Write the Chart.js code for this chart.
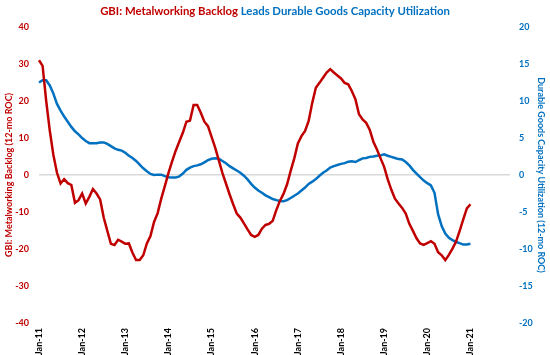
<!DOCTYPE html>
<html>
<head>
<meta charset="utf-8">
<script src="https://cdn.jsdelivr.net/npm/chart.js@4.4.1/dist/chart.umd.min.js"></script>
<style>
  html, body { margin: 0; padding: 0; background: #ffffff; }
  #wrap { width: 550px; height: 355px; position: relative; }
</style>
</head>
<body>
<div id="wrap"><canvas id="c" width="550" height="355"></canvas></div>
<script>
// ---- data ----
const monthNames = ['Jan','Feb','Mar','Apr','May','Jun','Jul','Aug','Sep','Oct','Nov','Dec'];
const years = ['11','12','13','14','15','16','17','18','19','20','21'];
const tickLabels = ['Jan-11','Jan-12','Jan-13','Jan-14','Jan-15','Jan-16','Jan-17','Jan-18','Jan-19','Jan-20','Jan-21'];

const gbiBacklog = [
  31.0, 29.5, 20.0, 12.0, 5.4, 0.6, -2.3, -1.1, -2.2, -2.7, -7.5, -6.8,
  -5.0, -7.7, -5.9, -3.8, -5.0, -6.6, -11.5, -15.1, -18.6, -18.9, -17.5, -18.0,
  -18.6, -18.5, -21.0, -23.0, -23.0, -21.7, -18.5, -16.5, -12.7, -10.3, -6.4, -3.0,
  0.5, 3.6, 6.5, 9.0, 11.4, 14.4, 14.7, 18.9, 18.9, 16.8, 14.4, 13.2,
  10.3, 7.4, 4.0, 0.6, -2.3, -5.2, -7.9, -10.4, -11.5, -13.1, -14.7, -16.2,
  -16.7, -16.2, -14.5, -13.5, -13.2, -12.4, -9.5, -7.0, -5.1, -2.5, 1.1, 4.5,
  8.5, 10.5, 11.9, 14.6, 19.5, 23.6, 24.9, 26.3, 27.7, 28.6, 27.7, 26.9,
  26.1, 24.9, 24.5, 22.7, 20.5, 16.4, 15.0, 14.1, 12.2, 9.0, 6.9, 4.5,
  2.2, -1.2, -4.0, -6.4, -7.7, -8.9, -10.4, -13.2, -15.1, -17.1, -18.5, -18.9,
  -18.4, -17.9, -18.6, -20.9, -21.7, -23.0, -21.6, -19.9, -18.0, -15.1, -12.0, -9.0,
  -7.9
];

const durableCapUtil = [
  12.5, 12.8, 12.8, 12.1, 11.0, 9.6, 8.7, 7.9, 7.2, 6.5, 5.9, 5.5,
  5.0, 4.6, 4.3, 4.3, 4.3, 4.4, 4.4, 4.2, 3.9, 3.6, 3.4, 3.3,
  3.0, 2.6, 2.3, 1.9, 1.4, 0.9, 0.5, 0.15, 0.0, 0.05, 0.05, -0.15,
  -0.3, -0.35, -0.35, -0.2, 0.2, 0.7, 1.0, 1.2, 1.3, 1.45, 1.7, 2.0,
  2.2, 2.25, 2.2, 1.9, 1.6, 1.2, 0.9, 0.6, 0.3, -0.1, -0.6, -1.2,
  -1.7, -2.1, -2.4, -2.75, -3.0, -3.25, -3.4, -3.5, -3.55, -3.4, -3.1, -2.8,
  -2.5, -2.1, -1.7, -1.2, -0.9, -0.55, -0.1, 0.3, 0.6, 1.0, 1.2, 1.35,
  1.5, 1.6, 1.8, 1.85, 1.75, 2.0, 2.25, 2.3, 2.45, 2.5, 2.6, 2.65,
  2.8, 2.6, 2.45, 2.3, 2.15, 2.1, 1.75, 1.3, 0.7, 0.2, -0.3, -0.75,
  -1.1, -1.4, -2.4, -5.3, -6.9, -7.9, -8.5, -8.8, -9.05, -9.2, -9.4, -9.4,
  -9.3
];

const titleRed = 'GBI: Metalworking Backlog ';
const titleBlue = 'Leads Durable Goods Capacity Utilization';
const leftTitle = 'GBI: Metalworking Backlog (12-mo ROC)';
const rightTitle = 'Durable Goods Capacity Utilization (12-mo ROC)';

// categories: every month Jan-11 .. Dec-21
const categories = [];
years.forEach(y => monthNames.forEach(m => categories.push(m + '-' + y)));

const RED = '#C00000';
const BLUE = '#0070C0';
const FONT = 'Lato, "Open Sans", sans-serif';

const titlePlugin = {
  id: 'twoColorTitle',
  afterDraw(chart) {
    const ctx = chart.ctx;
    ctx.save();
    let size = 14;
    ctx.font = 'bold ' + size + 'px ' + FONT;
    const w0 = ctx.measureText(titleRed + titleBlue).width;
    size = size * 350 / w0;
    ctx.font = 'bold ' + size + 'px ' + FONT;
    const wR = ctx.measureText(titleRed).width;
    const wAll = ctx.measureText(titleRed + titleBlue).width;
    const x0 = 275 - wAll / 2;
    ctx.textBaseline = 'middle';
    ctx.textAlign = 'left';
    ctx.fillStyle = RED;
    ctx.fillText(titleRed, x0, 11);
    ctx.fillStyle = BLUE;
    ctx.fillText(titleBlue, x0 + wR, 11);
    ctx.restore();
  }
};

new Chart(document.getElementById('c'), {
  type: 'line',
  data: {
    labels: categories,
    datasets: [
      {
        label: 'GBI: Metalworking Backlog',
        data: gbiBacklog,
        borderColor: RED,
        backgroundColor: RED,
        borderWidth: 2.5,
        pointRadius: 0,
        tension: 0,
        yAxisID: 'y'
      },
      {
        label: 'Durable Goods Capacity Utilization',
        data: durableCapUtil,
        borderColor: BLUE,
        backgroundColor: BLUE,
        borderWidth: 2.5,
        pointRadius: 0,
        tension: 0,
        yAxisID: 'y2'
      }
    ]
  },
  options: {
    responsive: false,
    animation: false,
    devicePixelRatio: 1,
    layout: { padding: { top: 27, left: 0, right: 0, bottom: 0 } },
    plugins: {
      legend: { display: false },
      title: { display: false },
      tooltip: { enabled: false }
    },
    scales: {
      x: {
        type: 'category',
        offset: false,
        border: { display: false },
        grid: { display: false, drawTicks: false },
        ticks: {
          autoSkip: false,
          maxRotation: 90,
          minRotation: 90,
          padding: 5,
          color: '#000000',
          font: { family: FONT, size: 9, weight: 'bold' },
          callback: function (val, idx) {
            const lab = this.getLabelForValue(val);
            return tickLabels.includes(lab) ? lab : '';
          }
        },
        afterFit(scale) { scale.height = 32; }
      },
      y: {
        position: 'left',
        min: -40,
        max: 40,
        border: { display: false },
        grid: {
          drawTicks: false,
          color: ctx => (ctx.tick && ctx.tick.value === 0 ? '#D9D9D9' : 'rgba(0,0,0,0)'),
          lineWidth: 1.5
        },
        ticks: {
          stepSize: 10,
          padding: 10,
          color: RED,
          font: { family: FONT, size: 9, weight: 'bold' }
        },
        title: {
          display: true,
          text: leftTitle,
          color: RED,
          padding: { top: 4, bottom: 0 },
          font: { family: FONT, size: 9, weight: 'bold' }
        },
        afterFit(scale) { scale.width = 39; }
      },
      y2: {
        position: 'right',
        min: -20,
        max: 20,
        border: { display: false },
        grid: { display: false, drawTicks: false },
        ticks: {
          stepSize: 5,
          padding: 9,
          color: BLUE,
          font: { family: FONT, size: 9, weight: 'bold' }
        },
        title: {
          display: true,
          text: rightTitle,
          color: BLUE,
          padding: { top: 4, bottom: 0 },
          font: { family: FONT, size: 9, weight: 'bold' }
        },
        afterFit(scale) { scale.width = 40; }
      }
    }
  },
  plugins: [titlePlugin]
});
</script>
</body>
</html>
